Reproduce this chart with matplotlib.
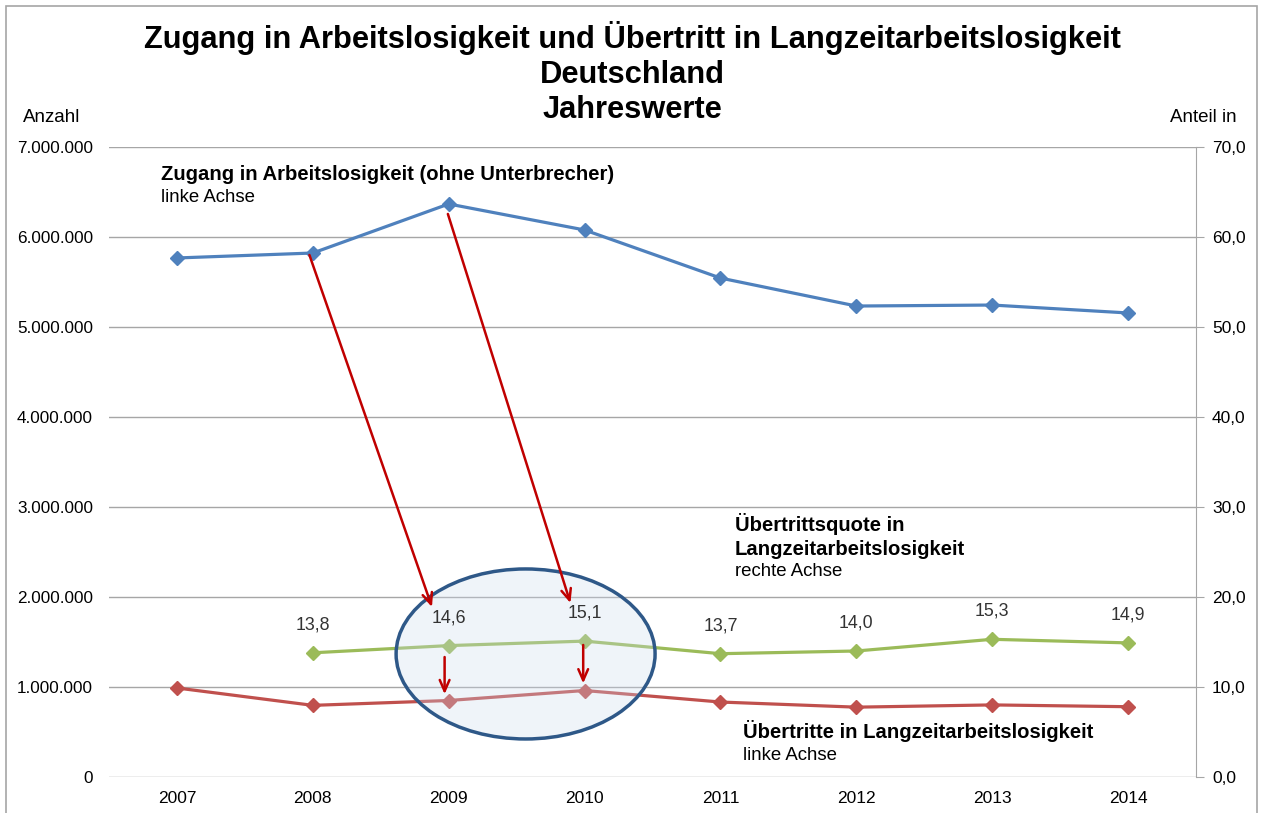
import matplotlib
matplotlib.use('Agg')
import matplotlib.pyplot as plt
from matplotlib.patches import Ellipse, Rectangle
from matplotlib.ticker import FuncFormatter

plt.rcParams['font.family'] = ['Liberation Sans', 'DejaVu Sans']

# Jahreswerte
jahre = ['2007', '2008', '2009', '2010', '2011', '2012', '2013', '2014']
zugang = [5767000, 5822000, 6367000, 6078000, 5544000, 5233000, 5244000, 5156000]
uebertritte = [989000, 796000, 850000, 961000, 833000, 776000, 801000, 781000]
quote = [None, 13.8, 14.6, 15.1, 13.7, 14.0, 15.3, 14.9]

BLUE = '#4F81BD'
RED = '#C0504D'
GREEN = '#9BBB59'
ARROW = '#C00000'

fig = plt.figure(figsize=(12.61, 8.13), dpi=100)
ax = fig.add_axes([109 / 1261, 36 / 813, 1087 / 1261, 630 / 813])
ax2 = ax.twinx()

x = list(range(len(jahre)))
ax.plot(x, zugang, color=BLUE, lw=2.3, marker='D', ms=6.8, zorder=3)
ax.plot(x, uebertritte, color=RED, lw=2.3, marker='D', ms=6.8, zorder=3)

qx = [i for i, q in zip(x, quote) if q is not None]
qy = [q for q in quote if q is not None]
ax2.plot(qx, qy, color=GREEN, lw=2.3, marker='D', ms=6.8, zorder=3)
for i, q in zip(qx, qy):
    ax2.annotate(f'{q:.1f}'.replace('.', ','), (i, q), xytext=(0, 14),
                 textcoords='offset points', ha='center', va='bottom',
                 fontsize=12.8, color='#333333', zorder=7)

ax.set_xlim(-0.5, len(jahre) - 0.5)
ax.set_ylim(0, 7000000)
ax.set_yticks(range(0, 7000001, 1000000))
ax.yaxis.set_major_formatter(FuncFormatter(lambda v, p: f'{int(v):,}'.replace(',', '.')))
ax2.set_ylim(0, 70)
ax2.set_yticks(range(0, 71, 10))
ax2.yaxis.set_major_formatter(FuncFormatter(lambda v, p: f'{v:.1f}'.replace('.', ',')))
ax.set_xticks(x)
ax.set_xticklabels(jahre)

ax.grid(axis='y', color='#A6A6A6', lw=1)
ax.set_axisbelow(True)
for a in (ax, ax2):
    for s in ('top', 'left', 'bottom', 'right'):
        a.spines[s].set_visible(False)
ax2.spines['right'].set_visible(True)
ax2.spines['right'].set_color('#A6A6A6')
ax.tick_params(axis='y', length=0, labelsize=12.3, pad=11.5)
ax.tick_params(axis='x', length=0, labelsize=12.5, pad=10)
ax2.tick_params(axis='y', length=6, color='#A6A6A6', labelsize=12.5, pad=5.5)

# Ellipse und Pfeile
ell = Ellipse((2.566, 1367000), 1.906, 1889000, transform=ax.transData,
              facecolor=(0.8, 0.86, 0.93, 0.3), edgecolor='#2E5888', lw=2.5, zorder=5)
ax2.add_patch(ell)
arrows = [((0.975, 5800000), (1.877, 1889000)),
          ((1.994, 6256000), (2.896, 1933000)),
          ((1.97, 1333000), (1.97, 920000)),
          ((2.99, 1467000), (2.99, 1040000))]
for start, end in arrows:
    ax2.annotate('', xy=end, xytext=start, xycoords=ax.transData, textcoords=ax.transData,
                 arrowprops=dict(arrowstyle='->,head_length=0.8,head_width=0.35',
                                 color=ARROW, lw=1.8, shrinkA=0, shrinkB=0), zorder=6)

# Beschriftungen
ax.text(-0.117, 6689000, 'Zugang in Arbeitslosigkeit (ohne Unterbrecher)', fontsize=14.6,
        fontweight='bold', va='center')
ax.text(-0.117, 6444000, 'linke Achse', fontsize=13.4, va='center')
ax.text(4.106, 2811000, 'Übertrittsquote in', fontsize=14.6, fontweight='bold', va='center')
ax.text(4.106, 2533000, 'Langzeitarbeitslosigkeit', fontsize=14.6, fontweight='bold', va='center')
ax.text(4.106, 2278000, 'rechte Achse', fontsize=13.4, va='center')
ax.text(4.164, 511000, 'Übertritte in Langzeitarbeitslosigkeit', fontsize=14.6,
        fontweight='bold', va='center')
ax.text(4.164, 240000, 'linke Achse', fontsize=13.4, va='center')

fig.text(632 / 1261, 1 - 73 / 813,
         'Zugang in Arbeitslosigkeit und Übertritt in Langzeitarbeitslosigkeit\nDeutschland\nJahreswerte',
         ha='center', va='center', fontsize=22.2, fontweight='bold', linespacing=1.22)
fig.text(23 / 1261, 1 - 117 / 813, 'Anzahl', fontsize=13.5, va='center')
fig.text(1170 / 1261, 1 - 117 / 813, 'Anteil in', fontsize=13.5, va='center')

fig.patches.append(Rectangle((6 / 1261, -0.05), 1251 / 1261, 1.05 - 6 / 813,
                             transform=fig.transFigure, fill=False,
                             edgecolor='#A6A6A6', lw=1.2))

fig.savefig('out.png', dpi=100)
